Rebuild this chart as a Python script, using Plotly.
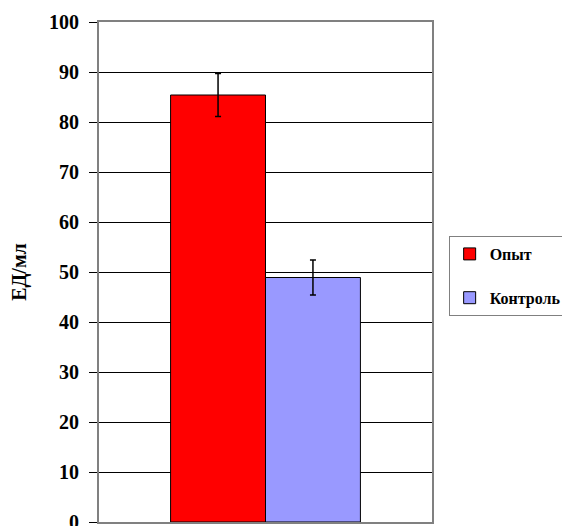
import plotly.graph_objects as go

categories = [""]
series_names = ["Опыт", "Контроль"]
values = [85.4, 48.9]
errors = [4.3, 3.5]
colors = ["#FF0000", "#9999FF"]
y_ticks = [0, 10, 20, 30, 40, 50, 60, 70, 80, 90, 100]

font_family = "Liberation Serif, Times New Roman, serif"

fig = go.Figure()
for name, v, e, c in zip(series_names, values, errors, colors):
    fig.add_trace(go.Bar(
        x=categories, y=[v], name=name, legendgroup=name,
        marker=dict(color=c, line=dict(color="black", width=1)),
        error_y=dict(type="data", array=[e], visible=True, color="black", thickness=1.5, width=3),
    ))

fig.update_layout(
    width=570, height=526,
    margin=dict(l=91, r=146, t=14, b=12, autoexpand=False),
    plot_bgcolor="white", paper_bgcolor="white",
    barmode="group", bargap=0.43, bargroupgap=0,
    font=dict(family=font_family, color="black", size=16),
    showlegend=True,
    legend=dict(
        x=1.05, xanchor="left", y=0.492, yanchor="middle",
        bordercolor="#808080", borderwidth=1,
        font=dict(family=font_family, size=16, color="black", weight="bold"),
        itemwidth=30, traceorder="grouped", tracegroupgap=20,
    ),
    yaxis=dict(
        range=[0, 100], tickvals=y_ticks, showgrid=True, gridcolor="black", gridwidth=1,
        ticks="outside", ticklen=8, tickcolor="black", ticklabelstandoff=6,
        tickfont=dict(family=font_family, size=20, color="black", weight="bold"),
        showline=True, linecolor="#808080", linewidth=2, mirror=True,
        zeroline=False, automargin=False,
        title=dict(text="ЕД/мл", font=dict(family=font_family, size=20, color="black", weight="bold"), standoff=18),
    ),
    xaxis=dict(
        showticklabels=False, ticks="", showline=True, linecolor="#808080", linewidth=2, mirror=True,
        automargin=False,
    ),
)

fig.write_html("out.html")
